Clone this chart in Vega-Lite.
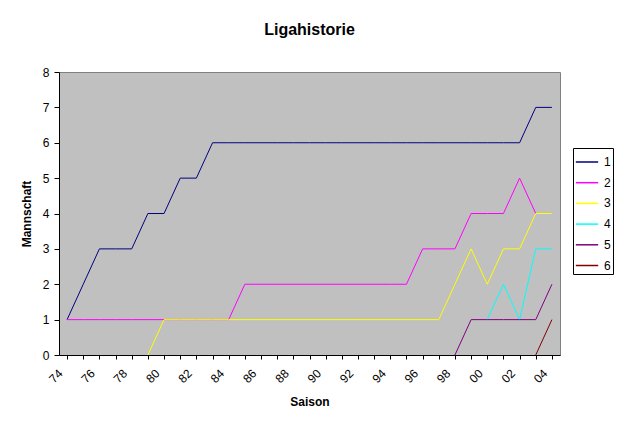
{
  "$schema": "https://vega.github.io/schema/vega-lite/v6.json",
  "width": 501,
  "height": 283,
  "autosize": {"type": "none"},
  "padding": {"left": 59, "top": 72, "right": 64, "bottom": 76},
  "background": "white",
  "title": {
    "text": "Ligahistorie",
    "font": "Liberation Sans",
    "fontSize": 16,
    "fontWeight": "bold",
    "color": "black",
    "anchor": "middle",
    "offset": 28
  },
  "config": {
    "view": {"fill": "#C0C0C0", "stroke": "#808080", "strokeWidth": 1},
    "font": "Liberation Sans"
  },
  "data": {
    "values": [
      {"Saison": "74", "Mannschaft": "1", "Wert": 1},
      {"Saison": "75", "Mannschaft": "1", "Wert": 2},
      {"Saison": "76", "Mannschaft": "1", "Wert": 3},
      {"Saison": "77", "Mannschaft": "1", "Wert": 3},
      {"Saison": "78", "Mannschaft": "1", "Wert": 3},
      {"Saison": "79", "Mannschaft": "1", "Wert": 4},
      {"Saison": "80", "Mannschaft": "1", "Wert": 4},
      {"Saison": "81", "Mannschaft": "1", "Wert": 5},
      {"Saison": "82", "Mannschaft": "1", "Wert": 5},
      {"Saison": "83", "Mannschaft": "1", "Wert": 6},
      {"Saison": "84", "Mannschaft": "1", "Wert": 6},
      {"Saison": "85", "Mannschaft": "1", "Wert": 6},
      {"Saison": "86", "Mannschaft": "1", "Wert": 6},
      {"Saison": "87", "Mannschaft": "1", "Wert": 6},
      {"Saison": "88", "Mannschaft": "1", "Wert": 6},
      {"Saison": "89", "Mannschaft": "1", "Wert": 6},
      {"Saison": "90", "Mannschaft": "1", "Wert": 6},
      {"Saison": "91", "Mannschaft": "1", "Wert": 6},
      {"Saison": "92", "Mannschaft": "1", "Wert": 6},
      {"Saison": "93", "Mannschaft": "1", "Wert": 6},
      {"Saison": "94", "Mannschaft": "1", "Wert": 6},
      {"Saison": "95", "Mannschaft": "1", "Wert": 6},
      {"Saison": "96", "Mannschaft": "1", "Wert": 6},
      {"Saison": "97", "Mannschaft": "1", "Wert": 6},
      {"Saison": "98", "Mannschaft": "1", "Wert": 6},
      {"Saison": "99", "Mannschaft": "1", "Wert": 6},
      {"Saison": "00", "Mannschaft": "1", "Wert": 6},
      {"Saison": "01", "Mannschaft": "1", "Wert": 6},
      {"Saison": "02", "Mannschaft": "1", "Wert": 6},
      {"Saison": "03", "Mannschaft": "1", "Wert": 7},
      {"Saison": "04", "Mannschaft": "1", "Wert": 7},

      {"Saison": "74", "Mannschaft": "2", "Wert": 1},
      {"Saison": "75", "Mannschaft": "2", "Wert": 1},
      {"Saison": "76", "Mannschaft": "2", "Wert": 1},
      {"Saison": "77", "Mannschaft": "2", "Wert": 1},
      {"Saison": "78", "Mannschaft": "2", "Wert": 1},
      {"Saison": "79", "Mannschaft": "2", "Wert": 1},
      {"Saison": "80", "Mannschaft": "2", "Wert": 1},
      {"Saison": "81", "Mannschaft": "2", "Wert": 1},
      {"Saison": "82", "Mannschaft": "2", "Wert": 1},
      {"Saison": "83", "Mannschaft": "2", "Wert": 1},
      {"Saison": "84", "Mannschaft": "2", "Wert": 1},
      {"Saison": "85", "Mannschaft": "2", "Wert": 2},
      {"Saison": "86", "Mannschaft": "2", "Wert": 2},
      {"Saison": "87", "Mannschaft": "2", "Wert": 2},
      {"Saison": "88", "Mannschaft": "2", "Wert": 2},
      {"Saison": "89", "Mannschaft": "2", "Wert": 2},
      {"Saison": "90", "Mannschaft": "2", "Wert": 2},
      {"Saison": "91", "Mannschaft": "2", "Wert": 2},
      {"Saison": "92", "Mannschaft": "2", "Wert": 2},
      {"Saison": "93", "Mannschaft": "2", "Wert": 2},
      {"Saison": "94", "Mannschaft": "2", "Wert": 2},
      {"Saison": "95", "Mannschaft": "2", "Wert": 2},
      {"Saison": "96", "Mannschaft": "2", "Wert": 3},
      {"Saison": "97", "Mannschaft": "2", "Wert": 3},
      {"Saison": "98", "Mannschaft": "2", "Wert": 3},
      {"Saison": "99", "Mannschaft": "2", "Wert": 4},
      {"Saison": "00", "Mannschaft": "2", "Wert": 4},
      {"Saison": "01", "Mannschaft": "2", "Wert": 4},
      {"Saison": "02", "Mannschaft": "2", "Wert": 5},
      {"Saison": "03", "Mannschaft": "2", "Wert": 4},
      {"Saison": "04", "Mannschaft": "2", "Wert": 4},

      {"Saison": "79", "Mannschaft": "3", "Wert": 0},
      {"Saison": "80", "Mannschaft": "3", "Wert": 1},
      {"Saison": "81", "Mannschaft": "3", "Wert": 1},
      {"Saison": "82", "Mannschaft": "3", "Wert": 1},
      {"Saison": "83", "Mannschaft": "3", "Wert": 1},
      {"Saison": "84", "Mannschaft": "3", "Wert": 1},
      {"Saison": "85", "Mannschaft": "3", "Wert": 1},
      {"Saison": "86", "Mannschaft": "3", "Wert": 1},
      {"Saison": "87", "Mannschaft": "3", "Wert": 1},
      {"Saison": "88", "Mannschaft": "3", "Wert": 1},
      {"Saison": "89", "Mannschaft": "3", "Wert": 1},
      {"Saison": "90", "Mannschaft": "3", "Wert": 1},
      {"Saison": "91", "Mannschaft": "3", "Wert": 1},
      {"Saison": "92", "Mannschaft": "3", "Wert": 1},
      {"Saison": "93", "Mannschaft": "3", "Wert": 1},
      {"Saison": "94", "Mannschaft": "3", "Wert": 1},
      {"Saison": "95", "Mannschaft": "3", "Wert": 1},
      {"Saison": "96", "Mannschaft": "3", "Wert": 1},
      {"Saison": "97", "Mannschaft": "3", "Wert": 1},
      {"Saison": "98", "Mannschaft": "3", "Wert": 2},
      {"Saison": "99", "Mannschaft": "3", "Wert": 3},
      {"Saison": "00", "Mannschaft": "3", "Wert": 2},
      {"Saison": "01", "Mannschaft": "3", "Wert": 3},
      {"Saison": "02", "Mannschaft": "3", "Wert": 3},
      {"Saison": "03", "Mannschaft": "3", "Wert": 4},
      {"Saison": "04", "Mannschaft": "3", "Wert": 4},

      {"Saison": "00", "Mannschaft": "4", "Wert": 1},
      {"Saison": "01", "Mannschaft": "4", "Wert": 2},
      {"Saison": "02", "Mannschaft": "4", "Wert": 1},
      {"Saison": "03", "Mannschaft": "4", "Wert": 3},
      {"Saison": "04", "Mannschaft": "4", "Wert": 3},

      {"Saison": "98", "Mannschaft": "5", "Wert": 0},
      {"Saison": "99", "Mannschaft": "5", "Wert": 1},
      {"Saison": "00", "Mannschaft": "5", "Wert": 1},
      {"Saison": "01", "Mannschaft": "5", "Wert": 1},
      {"Saison": "02", "Mannschaft": "5", "Wert": 1},
      {"Saison": "03", "Mannschaft": "5", "Wert": 1},
      {"Saison": "04", "Mannschaft": "5", "Wert": 2},

      {"Saison": "03", "Mannschaft": "6", "Wert": 0},
      {"Saison": "04", "Mannschaft": "6", "Wert": 1}
    ]
  },
  "mark": {"type": "line", "strokeWidth": 1, "clip": true},
  "encoding": {
    "x": {
      "field": "Saison",
      "type": "ordinal",
      "sort": null,
      "scale": {"paddingInner": 0, "paddingOuter": 0},
      "axis": {
        "title": "Saison",
        "titleFont": "Liberation Sans",
        "titleFontSize": 12,
        "titleFontWeight": "bold",
        "titleColor": "black",
        "titlePadding": 12,
        "bandPosition": 0,
        "labelAngle": -45,
        "labelAlign": "right",
        "labelBaseline": "middle",
        "labelPadding": 12,
        "labelOffset": -7,
        "labelFont": "Liberation Sans",
        "labelFontSize": 12,
        "labelColor": "black",
        "labelExpr": "indexof(['74','76','78','80','82','84','86','88','90','92','94','96','98','00','02','04'], datum.value) >= 0 ? datum.value : ''",
        "labelOverlap": false,
        "tickColor": "black",
        "tickSize": 4,
        "domainColor": "black",
        "grid": false
      }
    },
    "y": {
      "field": "Wert",
      "type": "quantitative",
      "scale": {"domain": [0, 8], "nice": false},
      "axis": {
        "title": "Mannschaft",
        "titleFont": "Liberation Sans",
        "titleFontSize": 12,
        "titleFontWeight": "bold",
        "titleColor": "black",
        "titlePadding": 9,
        "values": [0, 1, 2, 3, 4, 5, 6, 7, 8],
        "labelFont": "Liberation Sans",
        "labelFontSize": 12,
        "labelColor": "black",
        "labelPadding": 5,
        "tickColor": "black",
        "tickSize": 5,
        "domainColor": "black",
        "grid": false
      }
    },
    "color": {
      "field": "Mannschaft",
      "type": "nominal",
      "scale": {
        "domain": ["1", "2", "3", "4", "5", "6"],
        "range": ["#000080", "#FF00FF", "#FFFF00", "#00FFFF", "#800080", "#800000"]
      },
      "legend": {
        "title": null,
        "orient": "none",
        "legendX": 514,
        "legendY": 76,
        "symbolType": "stroke",
        "symbolSize": 500,
        "symbolStrokeWidth": 1.5,
        "rowPadding": 2.7,
        "labelFont": "Liberation Sans",
        "labelFontSize": 12,
        "labelColor": "black",
        "labelOffset": 5,
        "fillColor": "white",
        "strokeColor": "black",
        "padding": 2
      }
    }
  }
}
